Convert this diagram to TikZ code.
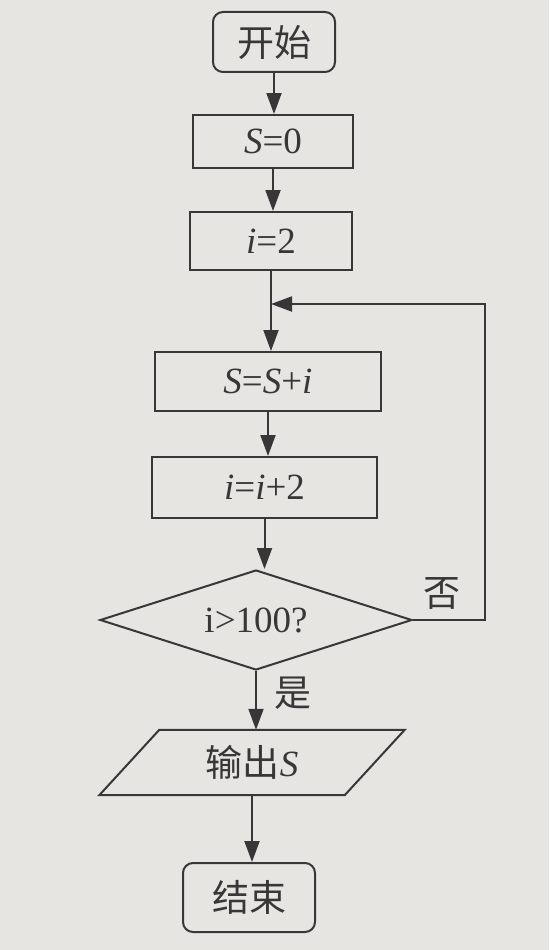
\documentclass[tikz,border=0pt]{standalone}
\usepackage{fontspec}
\setmainfont{Liberation Serif}
\newfontfamily\cjk{Noto Sans CJK SC}
\usetikzlibrary{shapes.geometric,arrows.meta}
\definecolor{paper}{RGB}{231,229,226}
\definecolor{ink}{RGB}{55,55,55}
\newcommand{\itv}[1]{{\rmfamily\itshape #1}}
\begin{document}
\begin{tikzpicture}[x=1pt,y=-1pt,
  every node/.style={text=ink, font=\fontsize{37}{42}\selectfont},
  base/.style={draw=ink, line width=2pt, fill=paper, inner sep=2pt},
  term/.style={base, rectangle, rounded corners=10pt},
  proc/.style={base, rectangle},
  decis/.style={base, diamond, aspect=3, minimum width=312pt, minimum height=100pt, inner sep=0pt},
  iobox/.style={rectangle, draw=none, minimum width=245pt, minimum height=65pt},
  lab/.style={inner sep=0pt},
  arr/.style={draw=ink, line width=2pt, -{Triangle[length=21pt,width=15pt]}},
  ln/.style={draw=ink, line width=2pt}]
\fill[paper] (0,0) rectangle (549,950);
\useasboundingbox (0,0) rectangle (549,950);

\node[term, minimum width=122pt, minimum height=60pt] (start) at (274,42) {\cjk 开始};
\node[proc, minimum width=160pt, minimum height=53pt] (s0) at (273,141.5) {\itv{S}=0};
\node[proc, minimum width=162pt, minimum height=58pt] (i2) at (271,241) {\itv{i}=2};
\node[proc, minimum width=226pt, minimum height=59pt] (ssi) at (268,381.5) {\itv{S}=\itv{S}+\itv{i}};
\node[proc, minimum width=225pt, minimum height=61pt] (ii2) at (264.5,487.5) {\itv{i}=\itv{i}+2};
\node[decis] (dec) at (256,620) {i>100?};
\node[iobox] (out) at (252,762.5) {};
\draw[ln, fill=paper] ([xshift=30pt]out.north west) -- ([xshift=30pt]out.north east)
  -- ([xshift=-30pt]out.south east) -- ([xshift=-30pt]out.south west) -- cycle;
\node at (out) {{\cjk 输出}\itv{S}};
\node[term, minimum width=132pt, minimum height=69pt] (end) at (249,897.5) {\cjk 结束};

\node[lab] (no) at (442,593) {\cjk 否};
\node[lab] (yes) at (293,693) {\cjk 是};

\coordinate (rt) at (485,304);

\draw[arr] (start) -- (start |- s0.north);
\draw[arr] (s0) -- (s0 |- i2.north);
\draw[arr] (i2) -- (i2 |- ssi.north);
\draw[arr] (ssi) -- (ssi |- ii2.north);
\draw[arr] (ii2) -- (ii2 |- dec.north);
\draw[arr] (dec) -- (dec |- out.north);
\draw[arr] (out) -- (out |- end.north);
\draw[arr] (dec.east) -| (rt) -- (i2 |- rt);
\end{tikzpicture}
\end{document}
